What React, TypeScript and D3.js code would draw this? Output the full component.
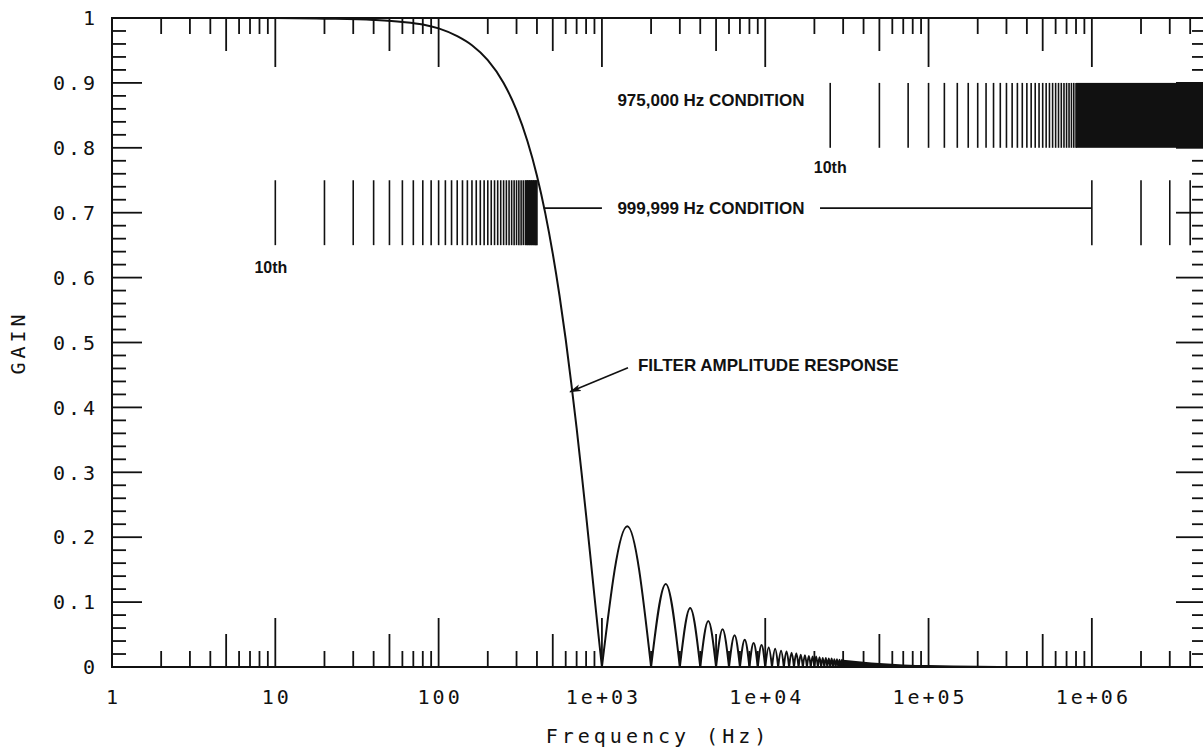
import React from 'react';
import * as d3 from 'd3';

// main lobe of the filter response (Hz, gain)
const mainFreq = [1, 10, 20, 40, 60, 80, 100, 130, 160, 200, 250, 300, 350, 400, 450, 500, 550, 600, 650, 700, 750, 800, 850, 900, 950, 1000];
const mainGain = [1.0, 1.0, 0.999, 0.997, 0.994, 0.99, 0.984, 0.972, 0.958, 0.935, 0.9, 0.858, 0.81, 0.757, 0.699, 0.637, 0.572, 0.505, 0.436, 0.368, 0.3, 0.234, 0.17, 0.109, 0.052, 0.0];

// side lobes: nulls, peak positions (kHz) and peak gains
const lobeZerosKHz = [1, 2, 3, 4, 5, 6, 7, 8, 9, 10, 11, 12, 13, 14, 15, 16, 17, 18, 19, 20, 21, 22, 23, 24, 25, 26, 27, 28, 29, 30];
const lobePeakKHz = [1.43, 2.46, 3.47, 4.48, 5.48, 6.49, 7.49, 8.49, 9.49, 10.5, 11.5, 12.5, 13.5, 14.5, 15.5, 16.5, 17.5, 18.5, 19.5, 20.5, 21.5, 22.5, 23.5, 24.5, 25.5, 26.5, 27.5, 28.5, 29.5];
const lobePeakGain = [0.217, 0.128, 0.091, 0.071, 0.058, 0.049, 0.042, 0.037, 0.034, 0.03, 0.028, 0.025, 0.024, 0.022, 0.021, 0.019, 0.018, 0.017, 0.016, 0.016, 0.015, 0.014, 0.014, 0.013, 0.013, 0.012, 0.012, 0.011, 0.011];

// the dense tail near the baseline
const tailFreq = [30000, 40000, 50000, 70000, 100000, 200000, 1000000, 5000000];
const tailGain = [0.011, 0.008, 0.006, 0.004, 0.003, 0.002, 0.001, 0.0005];

// 999,999 Hz condition marks
const lowLinesHz = [10, 20, 30, 40, 50, 60, 70, 80, 90, 100, 110, 120, 130, 140, 150, 160, 170, 180, 190, 200, 210, 220, 230, 240, 250, 260, 270, 280, 290, 300, 310, 320, 330, 340, 350, 360, 370, 380, 390, 400];
const lowBlockHz = [340, 400];
const lowRightLinesHz = [1000000, 2000000, 3000000, 4000000];
const lowBand = [0.65, 0.75];

// 975,000 Hz condition marks
const highLinesKHz = [25, 50, 75, 100, 125, 150, 175, 200, 225, 250, 275, 300, 325, 350, 375, 400, 425, 450, 475, 500, 525, 550, 575, 600, 625, 650, 675, 700, 725, 750, 775, 800];
const highBlockHz = [800000, 5000000];
const highBand = [0.8, 0.9];

const xTickValues = [1, 10, 100, 1000, 10000, 100000, 1000000];
const xTickLabels = ['1', '10', '100', '1e+03', '1e+04', '1e+05', '1e+06'];
const yTickValues = [0, 0.1, 0.2, 0.3, 0.4, 0.5, 0.6, 0.7, 0.8, 0.9, 1];
const yTickLabels = ['0', '0.1', '0.2', '0.3', '0.4', '0.5', '0.6', '0.7', '0.8', '0.9', '1'];

const W = 1203;
const H = 751;
const left = 112;
const right = 1206;
const top = 18;
const bottom = 667;

const plotFont = '"DejaVu Sans Mono", monospace';
const noteFont = '"Liberation Sans", Arial, sans-serif';
const ink = '#111';

export default function App() {
  const x = d3.scaleLog().domain([1, 5e6]).range([left, right]);
  const y = d3.scaleLinear().domain([0, 1]).range([bottom, top]);

  const line = d3.line<[number, number]>()
    .x(d => x(d[0]))
    .y(d => y(d[1]))
    .curve(d3.curveMonotoneX);

  const mainD = line(mainFreq.map((f, i) => [f, mainGain[i]] as [number, number])) || '';
  const lobesD = lobePeakGain.map((g, i) => line([
    [lobeZerosKHz[i] * 1000, 0],
    [lobePeakKHz[i] * 1000, g],
    [lobeZerosKHz[i + 1] * 1000, 0],
  ])).join('');

  const tailArea = d3.area<number>()
    .x((d, i) => x(tailFreq[i]))
    .y0(y(0))
    .y1(d => y(d))
    .curve(d3.curveMonotoneX);

  // log ticks 1..9 per decade; decade long, 5 medium, rest short
  const xTicks = x.ticks().filter(v => v > 1 && v < 5e6);
  const tickLen = (v: number) => {
    const m = Math.round(v / Math.pow(10, Math.floor(Math.log10(v) + 1e-9)));
    return m === 1 ? 49 : m === 5 ? 33 : 16;
  };
  const yMinor = y.ticks(50);
  const yMajor = y.ticks(10);

  return (
    <svg width={W} height={H} viewBox={`0 0 ${W} ${H}`}
      style={{ position: 'absolute', left: 0, top: 0, background: '#fff' }}>
      <defs>
        <marker id="arrow" viewBox="0 0 12 8" refX="11" refY="4" markerWidth="12" markerHeight="8"
          markerUnits="userSpaceOnUse" orient="auto">
          <path d="M0,0.5 L12,4 L0,7.5 L3,4 Z" fill={ink} />
        </marker>
      </defs>

      {/* frame */}
      <rect x={left} y={top} width={right - left} height={bottom - top} fill="none" stroke={ink} strokeWidth={2} />

      {/* x ticks, bottom and top; y ticks left and right */}
      <g stroke={ink} strokeWidth={1.8}>
        {xTicks.map(v => (
          <g key={v}>
            <line x1={x(v)} x2={x(v)} y1={bottom} y2={bottom - tickLen(v)} />
            <line x1={x(v)} x2={x(v)} y1={top} y2={top + tickLen(v)} />
          </g>
        ))}
        {yMinor.map(v => {
          const len = yMajor.some(m => Math.abs(m - v) < 1e-6) ? 30 : 14;
          return (
            <g key={v}>
              <line x1={left} x2={left + len} y1={y(v)} y2={y(v)} />
              <line x1={right} x2={right - len} y1={y(v)} y2={y(v)} />
            </g>
          );
        })}
      </g>

      {/* tick labels */}
      <g fontFamily={plotFont} fontSize={20} fill={ink} letterSpacing={3}>
        {xTickValues.map((v, i) => (
          <text key={v} x={x(v) + 1.5} y={704} textAnchor="middle">{xTickLabels[i]}</text>
        ))}
        {yTickValues.map((v, i) => (
          <text key={v} x={98} y={y(v)} dy="0.36em" textAnchor="end">{yTickLabels[i]}</text>
        ))}
      </g>
      <text x={658} y={743} textAnchor="middle" fontFamily={plotFont} fontSize={20} letterSpacing={4} fill={ink}>
        Frequency (Hz)
      </text>
      <text transform={`translate(25,${y(0.5)}) rotate(-90)`} textAnchor="middle" fontFamily={plotFont}
        fontSize={20} letterSpacing={4} fill={ink}>
        GAIN
      </text>

      {/* 999,999 Hz condition */}
      <g stroke={ink} strokeWidth={1.6}>
        {lowLinesHz.concat(lowRightLinesHz).map(f => (
          <line key={f} x1={x(f)} x2={x(f)} y1={y(lowBand[0])} y2={y(lowBand[1])} />
        ))}
        <line x1={x(440)} x2={x(1000)} y1={y(0.707)} y2={y(0.707)} />
        <line x1={x(21650)} x2={x(1e6)} y1={y(0.707)} y2={y(0.707)} />
      </g>
      <rect x={x(lowBlockHz[0])} y={y(lowBand[1])} width={x(lowBlockHz[1]) - x(lowBlockHz[0])}
        height={y(lowBand[0]) - y(lowBand[1])} fill={ink} />

      {/* 975,000 Hz condition */}
      <g stroke={ink} strokeWidth={1.6}>
        {highLinesKHz.map(f => (
          <line key={f} x1={x(f * 1000)} x2={x(f * 1000)} y1={y(highBand[0])} y2={y(highBand[1])} />
        ))}
      </g>
      <rect x={x(highBlockHz[0])} y={y(highBand[1])} width={x(highBlockHz[1]) - x(highBlockHz[0])}
        height={y(highBand[0]) - y(highBand[1])} fill={ink} />

      {/* annotations */}
      <g fontFamily={noteFont} fontWeight="bold" fill={ink}>
        <text x={x(4650)} y={y(0.707)} dy="0.36em" textAnchor="middle" fontSize={17}>999,999 Hz CONDITION</text>
        <text x={x(4650)} y={y(0.874)} dy="0.36em" textAnchor="middle" fontSize={17}>975,000 Hz CONDITION</text>
        <text x={x(9.4)} y={y(0.616)} dy="0.36em" textAnchor="middle" fontSize={16}>10th</text>
        <text x={x(25000)} y={y(0.77)} dy="0.36em" textAnchor="middle" fontSize={16}>10th</text>
        <text x={x(1663)} y={y(0.465)} dy="0.36em" fontSize={17}>FILTER AMPLITUDE RESPONSE</text>
      </g>
      <line x1={x(1444)} y1={y(0.461)} x2={x(638)} y2={y(0.424)} stroke={ink} strokeWidth={1.6}
        markerEnd="url(#arrow)" />

      {/* response curve */}
      <path d={tailArea(tailGain) || ''} fill={ink} />
      <path d={mainD} fill="none" stroke={ink} strokeWidth={2} />
      <path d={lobesD} fill="none" stroke={ink} strokeWidth={2} />
    </svg>
  );
}
